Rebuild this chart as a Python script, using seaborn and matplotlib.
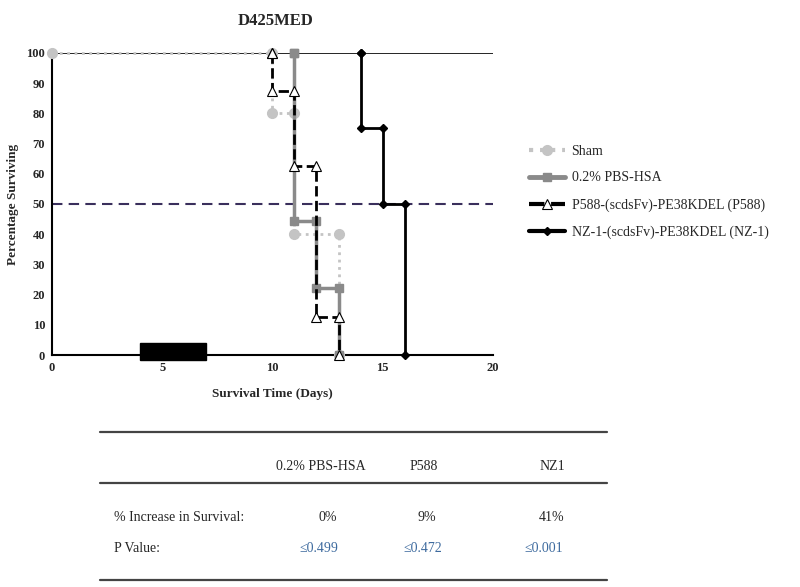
import numpy as np
import pandas as pd
import seaborn as sns
import matplotlib.pyplot as plt
from matplotlib.lines import Line2D
from matplotlib.patches import Rectangle

# ---------------- data ----------------
groups = ['Sham', '0.2% PBS-HSA', 'P588-(scdsFv)-PE38KDEL (P588)', 'NZ-1-(scdsFv)-PE38KDEL (NZ-1)']
sham_days = [0, 10, 11, 13]
sham_surv = [100, 80, 40, 0]
pbs_days = [11, 11, 12, 13]
pbs_surv = [100, 44.4, 22.2, 0]
p588_days = [10, 10, 11, 12, 13]
p588_surv = [100, 87.5, 62.5, 12.5, 0]
nz1_days = [14, 14, 15, 16]
nz1_surv = [100, 75, 50, 0]

# table below the chart
table_cols = ['0.2% PBS-HSA', 'P588', 'NZ1']
increase = ['0%', '9%', '41%']
p_values = ['≤0.499', '≤0.472', '≤0.001']

treat_start, treat_end = 4, 7


def steps(days, surv):
    # Kaplan-Meier style step coordinates
    xs, ys = [days[0]], [surv[0]]
    for i in range(1, len(days)):
        xs += [days[i], days[i]]
        ys += [surv[i - 1], surv[i]]
    return xs, ys


sns.set_style('white')
plt.rcParams['font.family'] = ['Liberation Serif', 'DejaVu Serif']

fig = plt.figure(figsize=(8, 5.87), dpi=100)
ax = fig.add_axes([0.065, 0.395, 0.551, 0.515])

styles = {
    'Sham': dict(color='#c4c4c4', ls=':', lw=2, marker='o', ms=7, mfc='#c4c4c4', mec='#c4c4c4'),
    '0.2% PBS-HSA': dict(color='#8a8a8a', ls='-', lw=2.5, marker='s', ms=6, mfc='#8a8a8a', mec='#8a8a8a'),
    'P588-(scdsFv)-PE38KDEL (P588)': dict(color='black', ls='--', lw=2, marker='^', ms=7, mfc='white', mec='black', mew=0.8),
    'NZ-1-(scdsFv)-PE38KDEL (NZ-1)': dict(color='black', ls='-', lw=2, marker='D', ms=4, mfc='black', mec='black'),
}

# reference lines
ax.axhline(100, color='black', lw=1.2, zorder=1)
ax.axhline(50, color='#3a2f5c', lw=1.5, ls=(0, (5, 3)), zorder=1)

series = [(sham_days, sham_surv), (pbs_days, pbs_surv), (p588_days, p588_surv), (nz1_days, nz1_surv)]
for g, (d, s) in zip(groups, series):
    xs, ys = steps(d, s)
    df = pd.DataFrame({'day': xs, 'surv': ys})
    st = styles[g]
    sns.lineplot(data=df, x='day', y='surv', sort=False, estimator=None, ax=ax,
                 color=st['color'], linestyle=st['ls'], linewidth=st['lw'],
                 marker=st['marker'], markersize=st['ms'], markerfacecolor=st['mfc'],
                 markeredgecolor=st['mec'], markeredgewidth=st.get('mew', 1),
                 clip_on=False, zorder=3, label=g)

# treatment bar
ax.add_patch(Rectangle((treat_start, -1.5), treat_end - treat_start, 5.5, color='black', zorder=4, clip_on=False))

ax.set_xlim(0, 20)
ax.set_ylim(0, 100)
ax.set_xticks([0, 5, 10, 15, 20])
ax.set_xticks(np.arange(0, 21, 1), minor=True)
ax.set_yticks(np.arange(0, 101, 10))
ax.tick_params(axis='both', which='major', length=3, width=1, direction='out', labelsize=9, pad=2)
ax.tick_params(axis='x', which='minor', length=2, width=0.8, direction='out')
for lab in ax.get_xticklabels() + ax.get_yticklabels():
    lab.set_fontweight('bold')
for side in ['top', 'right']:
    ax.spines[side].set_visible(False)
for side in ['left', 'bottom']:
    ax.spines[side].set_color('black')
    ax.spines[side].set_linewidth(1.5)
ax.set_xlabel('Survival Time (Days)', fontsize=9.5, fontweight='bold', labelpad=10)
ax.set_ylabel('Percentage Surviving', fontsize=9.5, fontweight='bold', labelpad=5)
ax.legend_.remove()

fig.text(0.344, 0.965, 'D425MED', ha='center', va='center', fontsize=12, fontweight='bold')

# legend on the right
handles = []
for g in groups:
    st = styles[g]
    handles.append(Line2D([], [], color=st['color'], ls=st['ls'], lw=st['lw'] + 1,
                          marker=st['marker'], ms=st['ms'], mfc=st['mfc'], mec=st['mec'],
                          mew=st.get('mew', 1)))
fig.legend(handles, groups, loc='upper left', bbox_to_anchor=(0.645, 0.775), frameon=False,
           fontsize=10, handlelength=2.6, labelspacing=1.0, handletextpad=0.5)

# ---------------- table ----------------
for y in [0.264, 0.177, 0.012]:
    fig.add_artist(Line2D([0.125, 0.759], [y, y], color='#444444', lw=1.6, transform=fig.transFigure))

col_x = [0.401, 0.53, 0.69]
for x, c in zip(col_x, table_cols):
    fig.text(x, 0.206, c, ha='center', va='center', fontsize=10)
fig.text(0.143, 0.119, '% Increase in Survival:', ha='left', va='center', fontsize=10)
fig.text(0.143, 0.066, 'P Value:', ha='left', va='center', fontsize=10)
for x, v in zip([0.41, 0.534, 0.69], increase):
    fig.text(x, 0.119, v, ha='center', va='center', fontsize=10)
for x, v in zip([0.398, 0.529, 0.68], p_values):
    fig.text(x, 0.066, v, ha='center', va='center', fontsize=10, color='#3d6a9e')

fig.savefig('out.png', dpi=100)
